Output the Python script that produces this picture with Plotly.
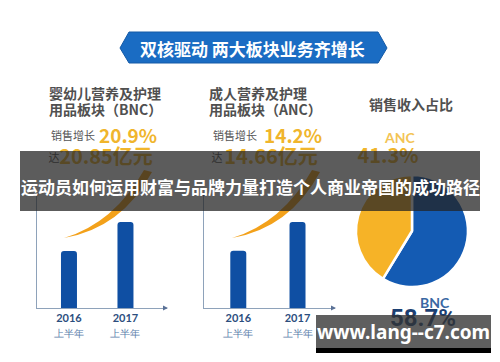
import plotly.graph_objects as go

# ---------------- data ----------------
periods = ["2016", "2017"]
period_labels = ["2016", "2017"]
period_sub = ["上半年", "上半年"]
bnc_sales = [17.25, 20.85]      # 亿元, 婴幼儿营养及护理用品板块
anc_sales = [12.84, 14.66]      # 亿元, 成人营养及护理用品板块
bnc_growth = 20.9               # %
anc_growth = 14.2               # %
share_labels = ["BNC", "ANC"]
share_values = [58.7, 41.3]     # % 销售收入占比

title_text = "双核驱动 两大板块业务齐增长"
band_text = "运动员如何运用财富与品牌力量打造个人商业帝国的成功路径"
watermark = "www.lang--c7.com"

# ---------------- styles ----------------
W, H = 500, 362
CJK = "Noto Sans CJK SC"
BLUE = "#0f4fa3"
YELLOW = "#f0b52c"
ORANGE = "#f3a11a"
AXIS = "#8ea2ba"
GRAY_TXT = "#505050"


def fx(x):
    return x / W


def fy(y):
    return 1 - y / H


fig = go.Figure()

ticktext = [f"<b>{a}</b><br><span style='font-size:10px;color:#5a7eab'>{b}</span>"
            for a, b in zip(period_labels, period_sub)]

# bar charts
fig.add_trace(go.Bar(x=periods, y=bnc_sales, width=0.283, marker=dict(color=BLUE, line=dict(width=0)),
                     xaxis="x", yaxis="y", hoverinfo="skip"))
fig.add_trace(go.Bar(x=periods, y=anc_sales, width=0.27, marker=dict(color=BLUE, line=dict(width=0)),
                     xaxis="x2", yaxis="y2", hoverinfo="skip"))

# pie
fig.add_trace(go.Pie(labels=share_labels, values=share_values, sort=False, direction="clockwise",
                     rotation=0, textinfo="none", hoverinfo="skip",
                     marker=dict(colors=["#145bb3", "#f6b327"], line=dict(color="white", width=2.5)),
                     domain=dict(x=[fx(356), fx(468)], y=[fy(287), fy(175)])))

# text beneath overlays (canvas axis, pixel coords)
fig.add_trace(go.Scatter(
    x=[54, 106, 217, 271, 388],
    y=[159, 159, 159, 159, 158],
    mode="text",
    text=["达", f"<b>{bnc_sales[1]:.2f}亿元</b>", "达", f"<b>{anc_sales[1]:.2f}亿元</b>",
          f"<b>{share_values[1]:.1f}%</b>"],
    textposition="middle center",
    textfont=dict(family=CJK, size=[11, 20, 11, 20, 20],
                  color=[GRAY_TXT, YELLOW, GRAY_TXT, YELLOW, YELLOW]),
    xaxis="x3", yaxis="y3", hoverinfo="skip", showlegend=False))
fig.add_trace(go.Scatter(
    x=[423], y=[320], mode="text", text=[f"<b>{share_values[0]:.1f}%</b>"],
    textposition="middle center",
    textfont=dict(family="Roboto", size=24, color="#1c3f72"),
    xaxis="x3", yaxis="y3", hoverinfo="skip", showlegend=False))

axis_common = dict(showgrid=False, zeroline=False, showline=True, linecolor=AXIS, linewidth=1, fixedrange=True)

fig.update_layout(
    width=W, height=H, autosize=False,
    margin=dict(l=0, r=0, t=0, b=0),
    paper_bgcolor="white", plot_bgcolor="rgba(0,0,0,0)",
    showlegend=False, barcornerradius=3,
    xaxis=dict(domain=[fx(37), fx(167)], anchor="y", type="category", range=[-0.566, 1.735],
               tickvals=periods, ticktext=ticktext, ticks="",
               tickfont=dict(family="Lato", size=11, color="#2c4e7e"), **axis_common),
    yaxis=dict(domain=[fy(308), fy(195)], anchor="x", range=[10.2, 24.2], showticklabels=False,
               ticks="", **axis_common),
    xaxis2=dict(domain=[fx(204), fx(335)], anchor="y2", type="category", range=[-0.579, 1.633],
                tickvals=periods, ticktext=ticktext, ticks="",
                tickfont=dict(family="Lato", size=11, color="#2c4e7e"), **axis_common),
    yaxis2=dict(domain=[fy(308), fy(195)], anchor="x2", range=[9.25, 16.35], showticklabels=False,
                ticks="", **axis_common),
    xaxis3=dict(domain=[0, 1], anchor="y3", range=[0, W], visible=False, fixedrange=True),
    yaxis3=dict(domain=[0, 1], anchor="x3", range=[H, 0], visible=False, fixedrange=True),
)

shapes = []
# title banner
shapes.append(dict(type="path", xref="x3", yref="y3",
                   path="M 120,48 L 129,32 L 378,32 L 387,48 L 378,63 L 129,63 Z",
                   fillcolor="#1a6cc3", line=dict(color="#155aa6", width=1), layer="above"))
# swooshes
for dx in (0, 168):
    p = (f"M {64+dx},238 Q {122+dx},228 {152+dx},172 L {144+dx},170 "
         f"Q {114+dx},223 {64+dx},238 Z")
    shapes.append(dict(type="path", xref="x3", yref="y3", path=p,
                       fillcolor=ORANGE, line=dict(width=0), layer="above"))
    x_end = 167 if dx == 0 else 335
    x0 = 37 if dx == 0 else 204
    shapes.append(dict(type="path", xref="x3", yref="y3",
                       path=f"M {x_end-4},305.5 L {x_end+1},308 L {x_end-4},310.5 Z",
                       fillcolor="#5a7196", line=dict(width=0), layer="above"))
    shapes.append(dict(type="circle", xref="x3", yref="y3", x0=x0-1.3, x1=x0+1.3, y0=193.7, y1=196.3,
                       fillcolor="#5a7196", line=dict(width=0), layer="above"))
# gray band
shapes.append(dict(type="rect", xref="x3", yref="y3", x0=20, x1=480, y0=151, y1=211,
                   fillcolor="rgba(35,35,35,0.74)", line=dict(width=0), layer="above"))
# watermark box
shapes.append(dict(type="rect", xref="x3", yref="y3", x0=316, x1=491, y0=315, y1=348,
                   fillcolor="rgba(50,50,50,0.78)", line=dict(width=0), layer="above"))
shapes.append(dict(type="rect", xref="x3", yref="y3", x0=316, x1=491, y0=348, y1=353,
                   fillcolor="#000000", line=dict(width=0), layer="above"))
fig.update_layout(shapes=shapes)

ann = []


def add(text, x, y, size, color, xanchor="left", family=CJK):
    ann.append(dict(text=text, x=x, y=y, xref="x3", yref="y3", showarrow=False,
                    xanchor=xanchor, yanchor="middle",
                    font=dict(family=family, size=size, color=color)))


add(f"<b>{title_text}</b>", 252, 48, 17, "white", "center")
add("<b>婴幼儿营养及护理</b>", 47, 93, 14, GRAY_TXT)
add("<b>用品板块（BNC）</b>", 47, 109, 14, GRAY_TXT)
add("<b>成人营养及护理</b>", 207, 93, 14, GRAY_TXT)
add("<b>用品板块（ANC）</b>", 207, 109, 14, GRAY_TXT)
add("<b>销售收入占比</b>", 367, 104, 14, GRAY_TXT)
add("销售增长", 49, 135, 11, "#555555")
add(f"<b>{bnc_growth}%</b>", 97, 134, 19, YELLOW)
add("销售增长", 211, 135, 11, "#555555")
add(f"<b>{anc_growth}%</b>", 262, 134, 19, YELLOW)
add(f"<b>{share_labels[1]}</b>", 400, 137, 14, "#f3c455", "center", "Lato")
add(f"<b>{share_labels[0]}</b>", 435, 302, 14, "#3a68a3", "center", "Lato")
add(f"<b>{band_text}</b>", 250, 186, 17, "white", "center")
add(f"<b>{watermark}</b>", 403, 332, 19, "white", "center", "Noto Sans")
fig.update_layout(annotations=ann)

fig.write_html("out.html", config={"displayModeBar": False},
               post_script="document.body.style.margin='0';document.body.style.padding='0';")
